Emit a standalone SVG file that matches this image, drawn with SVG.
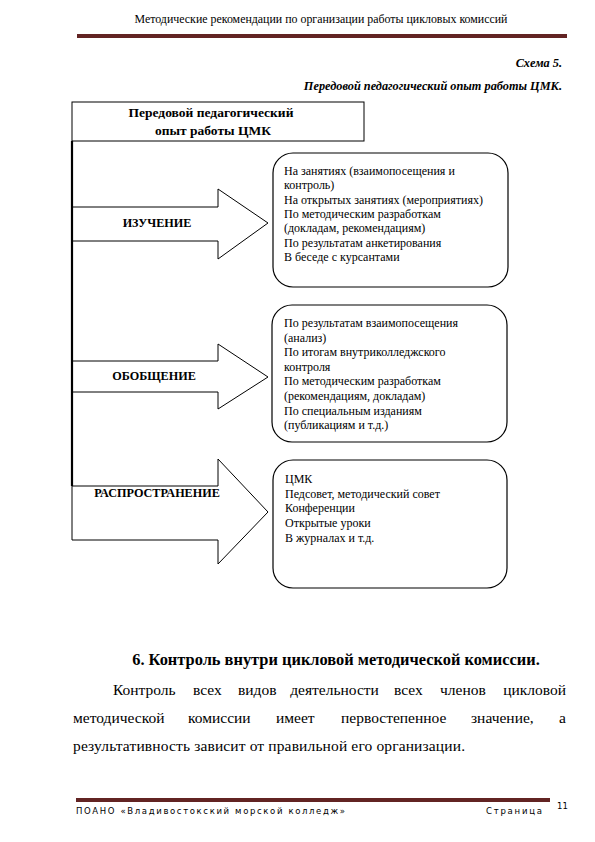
<svg xmlns="http://www.w3.org/2000/svg" width="595" height="842" viewBox="0 0 595 842">
<style>
.serif{font-family:'Liberation Serif','Times New Roman',serif;fill:#000}
.hdr{font-size:11.9px}
.ital{font-size:12.3px;font-style:italic;font-weight:bold}
.title{font-size:13.5px;font-weight:bold}
.lbl{font-size:12.2px;font-weight:bold}
.item{font-size:12px}
.body{font-size:15.5px}
.head{font-size:16.4px;font-weight:bold}
.foot{font-family:'DejaVu Sans','Liberation Sans',sans-serif;font-size:8.5px;fill:#000}
.arrow{fill:#fff;stroke:#000;stroke-width:1}
.rbox{fill:#fff;stroke:#000;stroke-width:1.2}
.rule{fill:#622423}
</style>

<!-- page header -->
<text class="serif hdr" x="321" y="23" text-anchor="middle">Методические рекомендации по организации работы  цикловых комиссий</text>
<rect class="rule" x="77" y="34" width="490" height="4"/>
<text class="serif ital" x="562" y="67" text-anchor="end">Схема 5.</text>
<text class="serif ital" x="562" y="90" text-anchor="end">Передовой педагогический опыт  работы ЦМК.</text>

<g id="title-node">
<rect x="72" y="102" width="292" height="39" fill="#fff" stroke="#000" stroke-width="1"/>
<text class="serif title" x="211" y="117" text-anchor="middle">Передовой педагогический</text>
<text class="serif title" x="213" y="135" text-anchor="middle">опыт работы ЦМК</text>
</g>

<g id="arrow-izuchenie">
<polygon class="arrow" points="72,207 218,207 218,189 268,223 218,259 218,241 72,241"/>
<text class="serif lbl" x="157" y="227" text-anchor="middle">ИЗУЧЕНИЕ</text>
</g>

<g id="arrow-obobshenie">
<polygon class="arrow" points="72,361 218,361 218,344 268,377 218,409 218,392 72,392"/>
<text class="serif lbl" x="154" y="380" text-anchor="middle">ОБОБЩЕНИЕ</text>
</g>

<g id="arrow-rasprostranenie">
<polygon class="arrow" points="72,486 218,486 218,459 268,512 218,564 218,540 72,540"/>
<text class="serif lbl" x="157" y="497" text-anchor="middle">РАСПРОСТРАНЕНИЕ</text>
</g>

<g id="connectors">
<line x1="72" y1="141" x2="72" y2="486" stroke="#000" stroke-width="2.2"/>
</g>

<g id="box-izuchenie">
<rect class="rbox" x="273" y="153" width="235" height="134" rx="20" ry="20"/>
<text class="serif item">
<tspan x="284" y="175">На занятиях (взаимопосещения и</tspan>
<tspan x="284" y="189.3">контроль)</tspan>
<tspan x="284" y="203.6">На открытых занятиях (мероприятиях)</tspan>
<tspan x="284" y="218">По методическим разработкам</tspan>
<tspan x="284" y="232.3">(докладам, рекомендациям)</tspan>
<tspan x="284" y="246.6">По результатам анкетирования</tspan>
<tspan x="284" y="261">В беседе с курсантами</tspan>
</text>
</g>

<g id="box-obobshenie">
<rect class="rbox" x="272" y="305" width="235" height="137" rx="20" ry="20"/>
<text class="serif item">
<tspan x="284" y="327">По результатам взаимопосещения</tspan>
<tspan x="284" y="341.6">(анализ)</tspan>
<tspan x="284" y="356.2">По итогам внутриколледжского</tspan>
<tspan x="284" y="370.8">контроля</tspan>
<tspan x="284" y="385.4">По методическим разработкам</tspan>
<tspan x="284" y="400">(рекомендациям, докладам)</tspan>
<tspan x="284" y="414.6">По специальным изданиям</tspan>
<tspan x="284" y="429.2">(публикациям и т.д.)</tspan>
</text>
</g>

<g id="box-rasprostranenie">
<rect class="rbox" x="273" y="460" width="234" height="128" rx="20" ry="20"/>
<text class="serif item">
<tspan x="285" y="483">ЦМК</tspan>
<tspan x="285" y="497.7">Педсовет, методический совет</tspan>
<tspan x="285" y="512.4">Конференции</tspan>
<tspan x="285" y="527.1">Открытые уроки</tspan>
<tspan x="285" y="541.8">В журналах и т.д.</tspan>
</text>
</g>

<!-- section text -->
<text class="serif head" x="336" y="665" text-anchor="middle">6. Контроль внутри цикловой методической комиссии.</text>
<text class="serif body" x="113" y="695">Контроль</text>
<text class="serif body" x="193" y="695">всех</text>
<text class="serif body" x="238" y="695">видов</text>
<text class="serif body" x="334.5" y="695" text-anchor="middle">деятельности</text>
<text class="serif body" x="394" y="695">всех</text>
<text class="serif body" x="440" y="695">членов</text>
<text class="serif body" x="566" y="695" text-anchor="end">цикловой</text>
<text class="serif body" x="73" y="723">методической</text>
<text class="serif body" x="188" y="723">комиссии</text>
<text class="serif body" x="276" y="723">имеет</text>
<text class="serif body" x="341" y="723">первостепенное</text>
<text class="serif body" x="471" y="723">значение,</text>
<text class="serif body" x="566" y="723" text-anchor="end">а</text>
<text class="serif body" x="73" y="751" textLength="392" lengthAdjust="spacing">результативность зависит от правильной его организации.</text>

<!-- footer -->
<rect class="rule" x="76" y="798" width="474" height="4"/>
<text class="foot" x="76" y="814" textLength="269" lengthAdjust="spacing">ПОАНО «Владивостокский морской колледж»</text>
<text class="foot" x="486" y="814" textLength="56" lengthAdjust="spacing">Страница</text>
<text class="foot" x="557" y="809" font-size="9">11</text>
</svg>
